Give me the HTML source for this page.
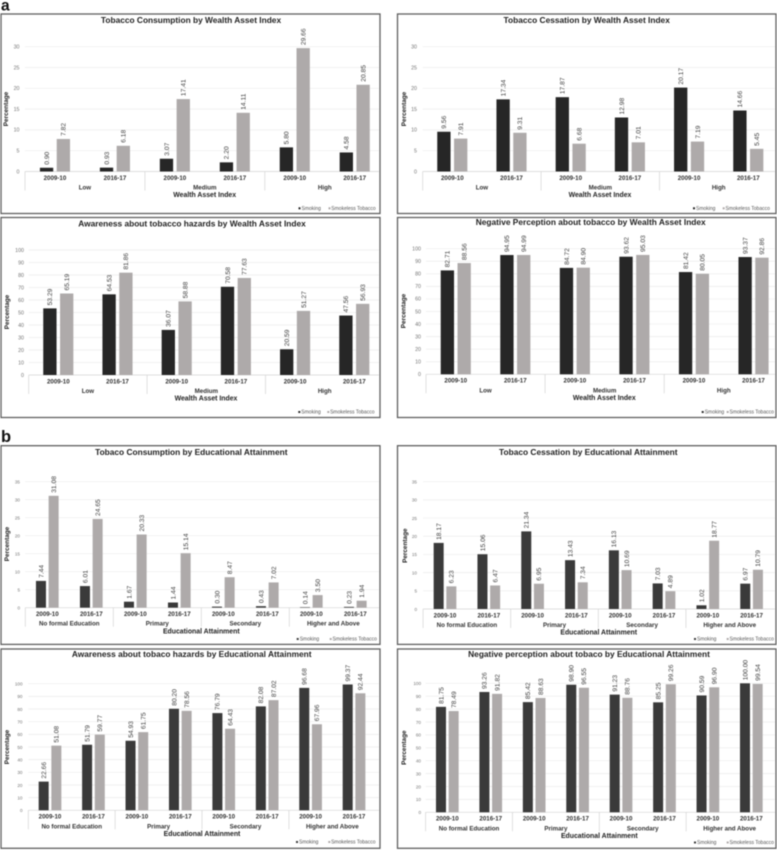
<!DOCTYPE html>
<html lang="en">
<head>
<meta charset="utf-8">
<title>Tobacco use by wealth and education</title>
<style>
html,body{margin:0;padding:0;background:#fff;width:777px;height:850px;overflow:hidden}
svg{display:block;filter:blur(0.4px)}
text{font-family:"Liberation Sans",sans-serif}
</style>
</head>
<body>
<svg id="figure" xmlns="http://www.w3.org/2000/svg" width="777" height="850" viewBox="0 0 777 850">
  <text x="1" y="10.5" font-size="15.5" font-weight="700" fill="#111">a</text>
  <text x="1" y="442" font-size="16.5" font-weight="700" fill="#111">b</text>
</svg>
<script>
const wealthGroups = ["Low", "Medium", "High"];
const educationGroups = ["No formal Education", "Primary", "Secondary", "Higher and Above"];
const yearLabels = ["2009-10", "2016-17"];
const ticks30 = [0, 5, 10, 15, 20, 25, 30];
const ticks35 = [0, 5, 10, 15, 20, 25, 30, 35];
const ticks100 = [0, 10, 20, 30, 40, 50, 60, 70, 80, 90, 100];
const seriesNames = ["Smoking", "Smokeless Tobacco"];

const consumptionWealthSmoking = [0.90, 0.93, 3.07, 2.20, 5.80, 4.58];
const consumptionWealthSmokeless = [7.82, 6.18, 17.41, 14.11, 29.66, 20.85];
const cessationWealthSmoking = [9.56, 17.34, 17.87, 12.98, 20.17, 14.66];
const cessationWealthSmokeless = [7.91, 9.31, 6.68, 7.01, 7.19, 5.45];
const awarenessWealthSmoking = [53.29, 64.53, 36.07, 70.58, 20.59, 47.56];
const awarenessWealthSmokeless = [65.19, 81.86, 58.88, 77.63, 51.27, 56.93];
const perceptionWealthSmoking = [82.71, 94.95, 84.72, 93.62, 81.42, 93.37];
const perceptionWealthSmokeless = [88.56, 94.99, 84.90, 95.03, 80.05, 92.86];
const consumptionEducationSmoking = [7.44, 6.01, 1.67, 1.44, 0.30, 0.43, 0.14, 0.23];
const consumptionEducationSmokeless = [31.08, 24.65, 20.33, 15.14, 8.47, 7.02, 3.50, 1.94];
const cessationEducationSmoking = [18.17, 15.06, 21.34, 13.43, 16.13, 7.03, 1.02, 6.97];
const cessationEducationSmokeless = [6.23, 6.47, 6.95, 7.34, 10.69, 4.89, 18.77, 10.79];
const awarenessEducationSmoking = [22.66, 51.79, 54.93, 80.20, 76.79, 82.08, 96.68, 99.37];
const awarenessEducationSmokeless = [51.08, 59.77, 61.75, 78.56, 64.43, 87.02, 67.96, 92.44];
const perceptionEducationSmoking = [81.75, 93.26, 85.42, 98.90, 91.23, 85.25, 90.59, 100.00];
const perceptionEducationSmokeless = [78.49, 91.82, 88.63, 96.55, 88.76, 99.26, 96.90, 99.54];

const svg = document.getElementById('figure');
const NS = 'http://www.w3.org/2000/svg';

function make(tag, props, content) {
  const node = document.createElementNS(NS, tag);
  for (const k in props) node.setAttribute(k, props[k]);
  if (content !== undefined) node.textContent = content;
  return node;
}

function drawChart(c) {
  const g = make('g', {});
  
  
  svg.appendChild(g);

  const frame = make('rect', {x: c.fx, y: c.fy, width: c.fw, height: c.fh, fill: '#fff', stroke: '#5f5f5f', 'stroke-width': 1.3});
  
  
  g.appendChild(frame);

  const title = make('text', {x: c.tx, y: c.ty + 2.9, 'text-anchor': 'middle', 'font-size': 8.35, 'font-weight': 700, fill: '#222'}, c.title);
  
  
  g.appendChild(title);

  const ticks = c.ticks;
  const tickMax = ticks[ticks.length - 1];
  const yOf = v => c.y0 - (v / tickMax) * (c.y0 - c.yTop);
  const xCat = i => c.left + c.catW * (i + 0.5);
  const right = c.fx + c.fw - 1;

  ticks.forEach(t => {
    if (t > 0) {
      const grid = make('line', {x1: c.left, x2: right, y1: yOf(t), y2: yOf(t), stroke: '#ececec', 'stroke-width': 0.7});
      
      
      g.appendChild(grid);
    }
    const tick = make('text', {x: c.tickX, y: yOf(t) + 1.8, 'text-anchor': 'end', 'font-size': c.tickSize || 5.3, fill: '#777'}, t);
    
    
    g.appendChild(tick);
  });

  const axis = make('line', {x1: c.left, x2: right, y1: c.y0, y2: c.y0, stroke: '#d4d4d4', 'stroke-width': 0.7});
  
  
  g.appendChild(axis);

  const yTitle = make('text', {transform: 'translate(' + (c.yTitleX + 2.2) + ',' + c.yTitleY + ') rotate(-90)', 'text-anchor': 'middle', 'font-size': 6.4, 'font-weight': 700, fill: '#222'}, 'Percentage');
  
  
  g.appendChild(yTitle);

  const perGroup = c.a.length / c.groups.length;
  c.groups.forEach((name, i) => {
    const dx = c.left + c.catW * perGroup * i;
    const divider = make('line', {x1: dx, x2: dx, y1: c.y0, y2: c.y0 + 19, stroke: '#d4d4d4', 'stroke-width': 0.7});
    
    
    g.appendChild(divider);
    const label = make('text', {x: dx + c.catW * perGroup / 2, y: c.y0 + 18, 'text-anchor': 'middle', 'font-size': 6.2, 'font-weight': 700, fill: '#333'}, name);
    
    
    g.appendChild(label);
  });

  c.a.forEach((v, i) => {
    const cx = xCat(i);
    const year = make('text', {x: cx, y: c.y0 + 8.4, 'text-anchor': 'middle', 'font-size': 6.2, 'font-weight': 700, fill: '#333'}, yearLabels[i % 2]);
    
    
    g.appendChild(year);

    const x1 = cx - c.barStep / 2 - c.barW / 2;
    const x2 = x1 + c.barStep;
    const h1 = c.y0 - yOf(v);
    const barA = make('rect', {x: x1, y: yOf(v), width: c.barW, height: h1, fill: c.dark});
    
    
    g.appendChild(barA);

    const w = c.b[i];
    const h2 = c.y0 - yOf(w);
    const barB = make('rect', {x: x2, y: yOf(w), width: c.barW, height: h2, fill: '#aeaaaa'});
    
    
    g.appendChild(barB);

    const la = make('text', {transform: 'translate(' + (x1 + c.barW / 2 + 2.3) + ',' + (yOf(v) - 3) + ') rotate(-90)', 'font-size': 6.7, fill: '#3c3c3c'}, v.toFixed(2));
    
    
    g.appendChild(la);

    const lb = make('text', {transform: 'translate(' + (x2 + c.barW / 2 + 2.3) + ',' + (yOf(w) - 3) + ') rotate(-90)', 'font-size': 6.7, fill: '#3c3c3c'}, w.toFixed(2));
    
    
    g.appendChild(lb);
  });

  const xTitle = make('text', {x: c.xTitleX, y: c.y0 + 25.6, 'text-anchor': 'middle', 'font-size': 6.9, 'font-weight': 700, fill: '#222'}, c.xTitle);
  
  
  g.appendChild(xTitle);

  const keyA = make('rect', {x: c.legX, y: c.legY - 1, width: 2, height: 2, fill: c.dark});
  
  
  g.appendChild(keyA);

  const legA = make('text', {x: c.legX + 3, y: c.legY + 1.7, 'font-size': 5, fill: '#555'}, seriesNames[0]);
  
  
  g.appendChild(legA);

  const keyB = make('rect', {x: c.legX + c.legStep, y: c.legY - 1, width: 2, height: 2, fill: '#aeaaaa'});
  
  
  g.appendChild(keyB);

  const legB = make('text', {x: c.legX + c.legStep + 2.8, y: c.legY + 1.7, 'font-size': 5, fill: '#555'}, seriesNames[1]);
  
  
  g.appendChild(legB);
}

const LW = 'Wealth Asset Index';
const LE = 'Educational Attainment';

drawChart({title: 'Tobacco Consumption by Wealth Asset Index', xTitle: LW, groups: wealthGroups, ticks: ticks30,
  a: consumptionWealthSmoking, b: consumptionWealthSmokeless, dark: '#262626',
  fx: 1, fy: 14, fw: 379, fh: 199.5, tx: 191, ty: 20, y0: 171.5, yTop: 46.7, left: 25, catW: 59.95, barW: 13.3, barStep: 16.8,
  tickX: 19.5, yTitleX: 6, yTitleY: 109, xTitleX: 204.7, legX: 298.5, legY: 208.3, legStep: 30});

drawChart({title: 'Tobacco Cessation by Wealth Asset Index', xTitle: LW, groups: wealthGroups, ticks: ticks30,
  a: cessationWealthSmoking, b: cessationWealthSmokeless, dark: '#262626',
  fx: 397.5, fy: 14, fw: 378.5, fh: 199.5, tx: 586.7, ty: 20, y0: 171.5, yTop: 46.7, left: 422.7, catW: 59.2, barW: 13.3, barStep: 16.8,
  tickX: 417, yTitleX: 404, yTitleY: 109, xTitleX: 600, legX: 693, legY: 208.3, legStep: 29.7});

drawChart({title: 'Awareness about tobacco hazards by Wealth Asset Index', xTitle: LW, groups: wealthGroups, ticks: ticks100,
  a: awarenessWealthSmoking, b: awarenessWealthSmokeless, dark: '#262626',
  fx: 1, fy: 217.5, fw: 379, fh: 200, tx: 192, ty: 223.7, y0: 375, yTop: 250, left: 28.7, catW: 59.2, barW: 13.3, barStep: 16.8,
  tickX: 24, yTitleX: 6.7, yTitleY: 312, xTitleX: 206, legX: 298.3, legY: 412, legStep: 29});

drawChart({title: 'Negative Perception about tobacco by Wealth Asset Index', xTitle: LW, groups: wealthGroups, ticks: ticks100,
  a: perceptionWealthSmoking, b: perceptionWealthSmokeless, dark: '#262626',
  fx: 397.5, fy: 217.5, fw: 378.5, fh: 200, tx: 590.7, ty: 222, y0: 374.3, yTop: 248.7, left: 426, catW: 59.55, barW: 13.3, barStep: 16.8,
  tickX: 421, yTitleX: 403.3, yTitleY: 311, xTitleX: 604.3, legX: 701.7, legY: 412, legStep: 25});

drawChart({title: 'Tobaco Consumption by Educational Attainment', xTitle: LE, groups: educationGroups, ticks: ticks35,
  a: consumptionEducationSmoking, b: consumptionEducationSmokeless, dark: '#3a3a3a',
  fx: 1, fy: 445.7, fw: 379, fh: 198.7, tx: 191.3, ty: 452.3, y0: 607.7, yTop: 481.7, left: 25.3, catW: 44, barW: 10, barStep: 12.67,
  tickX: 20, tickSize: 4.6, yTitleX: 6.7, yTitleY: 544, xTitleX: 201.3, legX: 296.7, legY: 639, legStep: 33});

drawChart({title: 'Tobaco Cessation by Educational Attainment', xTitle: LE, groups: educationGroups, ticks: ticks35,
  a: cessationEducationSmoking, b: cessationEducationSmokeless, dark: '#3a3a3a',
  fx: 397.5, fy: 445.7, fw: 378.5, fh: 198.7, tx: 588.3, ty: 452.3, y0: 609, yTop: 481.7, left: 423.1, catW: 43.8, barW: 10, barStep: 12.67,
  tickX: 417, tickSize: 4.6, yTitleX: 404.7, yTitleY: 545.7, xTitleX: 598.7, legX: 694, legY: 639, legStep: 32.7});

drawChart({title: 'Awareness about tobaco hazards by Educational Attainment', xTitle: LE, groups: educationGroups, ticks: ticks100,
  a: awarenessEducationSmoking, b: awarenessEducationSmokeless, dark: '#3a3a3a',
  fx: 1, fy: 649, fw: 379, fh: 199.3, tx: 191.7, ty: 654.3, y0: 810.3, yTop: 683.7, left: 28.3, catW: 43.43, barW: 10, barStep: 12.67,
  tickX: 22.5, tickSize: 4.6, yTitleX: 6.7, yTitleY: 747, xTitleX: 202, legX: 296, legY: 842, legStep: 32.3});

drawChart({title: 'Negative perception about tobaco by Educational Attainment', xTitle: LE, groups: educationGroups, ticks: ticks100,
  a: perceptionEducationSmoking, b: perceptionEducationSmokeless, dark: '#3a3a3a',
  fx: 397.5, fy: 649, fw: 378.5, fh: 199.3, tx: 589, ty: 654, y0: 812.3, yTop: 683.3, left: 425.6, catW: 43.43, barW: 10, barStep: 12.67,
  tickX: 421, tickSize: 4.6, yTitleX: 404, yTitleY: 747.7, xTitleX: 599.3, legX: 694, legY: 842.5, legStep: 32.7});
</script>
</body>
</html>
